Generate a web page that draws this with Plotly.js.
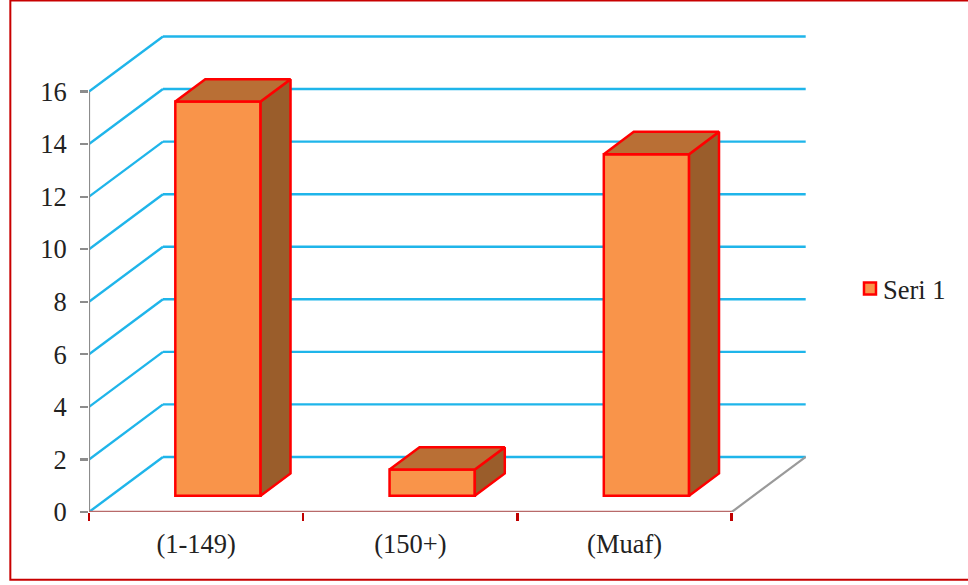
<!DOCTYPE html>
<html>
<head>
<meta charset="utf-8">
<script src="https://cdn.plot.ly/plotly-3.0.1.min.js"></script>
<style>html,body{margin:0;padding:0;background:#fff;overflow:hidden}#chart{width:968px;height:585px}</style>
</head>
<body>
<div id="chart"></div>
<script>
const categories = ["(1-149)", "(150+)", "(Muaf)"];
const seriesName = "Seri 1";
const seriesValues = [15, 1, 13];
const yTicks = [0, 2, 4, 6, 8, 10, 12, 14, 16];

// plot frame in pixels
const W = 968, H = 585;
const L = 88.7, R = 806, T = 20, B = 511.7;
const catPx = (731.7 - L) / categories.length;
const unitPx = (B - 91.5) / 16;
const xMin = -0.5, xMax = xMin + (R - L) / catPx;
const yMax = (B - T) / unitPx;

// oblique depth projection: depth d runs 0 (front) to 1 (back wall)
const depthX = 74 / catPx, depthY = 55 / unitPx;
const P = (x, y, d) => [x + d * depthX, y + d * depthY];

const barWidth = 0.398, d0 = 0.295, d1 = 0.70;
const halfW = barWidth / 2;

const frontX = categories.map((c, i) => P(i, 0, d0)[0]);
const frontBase = categories.map((c, i) => P(i, 0, d0)[1]);

function polyTrace(color, corners) {
  const xs = [], ys = [];
  seriesValues.forEach((v, i) => {
    const pts = corners(i, v);
    pts.concat([pts[0]]).forEach(p => { xs.push(p[0]); ys.push(p[1]); });
    xs.push(null); ys.push(null);
  });
  return { type: "scatter", mode: "lines", x: xs, y: ys, fill: "toself", fillcolor: color,
    line: { color: "#ff0000", width: 2.5 }, showlegend: false, hoverinfo: "skip" };
}

const traces = [
  { type: "bar", name: seriesName, x: frontX, y: seriesValues, base: frontBase, width: barWidth,
    marker: { color: "#f9944a", line: { color: "#ff0000", width: 2.5 } } },
  polyTrace("#9a5d2b", (i, v) => [
    P(i + halfW, 0, d0), P(i + halfW, 0, d1), P(i + halfW, v, d1), P(i + halfW, v, d0)]),
  polyTrace("#b96f35", (i, v) => [
    P(i - halfW, v, d0), P(i - halfW, v, d1), P(i + halfW, v, d1), P(i + halfW, v, d0)]),
  { type: "scatter", mode: "lines", x: [xMin, xMin], y: [0, yTicks[yTicks.length - 1]],
    line: { color: "#8c8c8c", width: 2.2 }, showlegend: false, hoverinfo: "skip" },
  { type: "scatter", mode: "lines", x: [xMin, categories.length - 0.5], y: [0, 0],
    line: { color: "#b86a6a", width: 2.5 }, showlegend: false, hoverinfo: "skip" }
];

const shapes = [];
yTicks.forEach(t => {
  const a = P(xMin, t, 0), b = P(xMin, t, 1), c = P(categories.length - 0.5, t, 1);
  const ln = { color: "#1fb5ea", width: 2.4 };
  shapes.push({ type: "line", layer: "below", xref: "x", yref: "y", x0: a[0], y0: a[1], x1: b[0], y1: b[1], line: ln });
  shapes.push({ type: "line", layer: "below", xref: "x", yref: "y", x0: b[0], y0: b[1], x1: c[0], y1: c[1], line: ln });
});
const fr = P(categories.length - 0.5, 0, 0), bk = P(categories.length - 0.5, 0, 1);
shapes.push({ type: "line", layer: "below", xref: "x", yref: "y", x0: fr[0], y0: fr[1], x1: bk[0], y1: bk[1], line: { color: "#9a9a9a", width: 2.2 } });

// chart border (right edge runs off the picture)
const px = v => (v - L) / (R - L), py = v => (B - v) / (B - T);
shapes.push({ type: "rect", xref: "paper", yref: "paper", layer: "above",
  x0: px(10), x1: px(980), y0: py(579.5), y1: py(0.5), line: { color: "#c80000", width: 2 }, fillcolor: "rgba(0,0,0,0)" });

const tickFont = { family: "Liberation Serif", size: 26.5, color: "#222" };
const layout = {
  width: W, height: H, paper_bgcolor: "#fff", plot_bgcolor: "#fff",
  margin: { l: L, r: W - R, t: T, b: H - B, pad: 0 },
  showlegend: true,
  legend: { x: px(843), xanchor: "left", y: py(288.5), yanchor: "middle", font: { family: "Liberation Serif", size: 26.5, color: "#222" },
    bgcolor: "rgba(0,0,0,0)", borderwidth: 0 },
  xaxis: { range: [xMin, xMax], showgrid: false, zeroline: false, showline: false,
    tickmode: "array", tickvals: categories.map((c, i) => i), ticktext: categories,
    ticks: "", tickfont: tickFont, ticklabelstandoff: 13,
    minor: { tickmode: "array", tickvals: [-0.5, 0.5, 1.5, 2.5], ticks: "outside", ticklen: 8, tickwidth: 2.5, tickcolor: "#c00000", showgrid: false } },
  yaxis: { range: [0, yMax], showgrid: false, zeroline: false, showline: false,
    tickmode: "array", tickvals: yTicks, ticks: "outside", ticklen: 8, tickwidth: 2.2, tickcolor: "#8c8c8c",
    tickfont: tickFont, ticklabelstandoff: 8 },
  shapes: shapes,
  bargap: 0
};
Plotly.newPlot("chart", traces, layout, { displayModeBar: false, staticPlot: true }).then(() => {
  // the reference keeps its legend swatch close to the label
  document.querySelectorAll("#chart .legend .legendsymbols").forEach(g => g.setAttribute("transform", "translate(7,0)"));
});
</script>
</body>
</html>
